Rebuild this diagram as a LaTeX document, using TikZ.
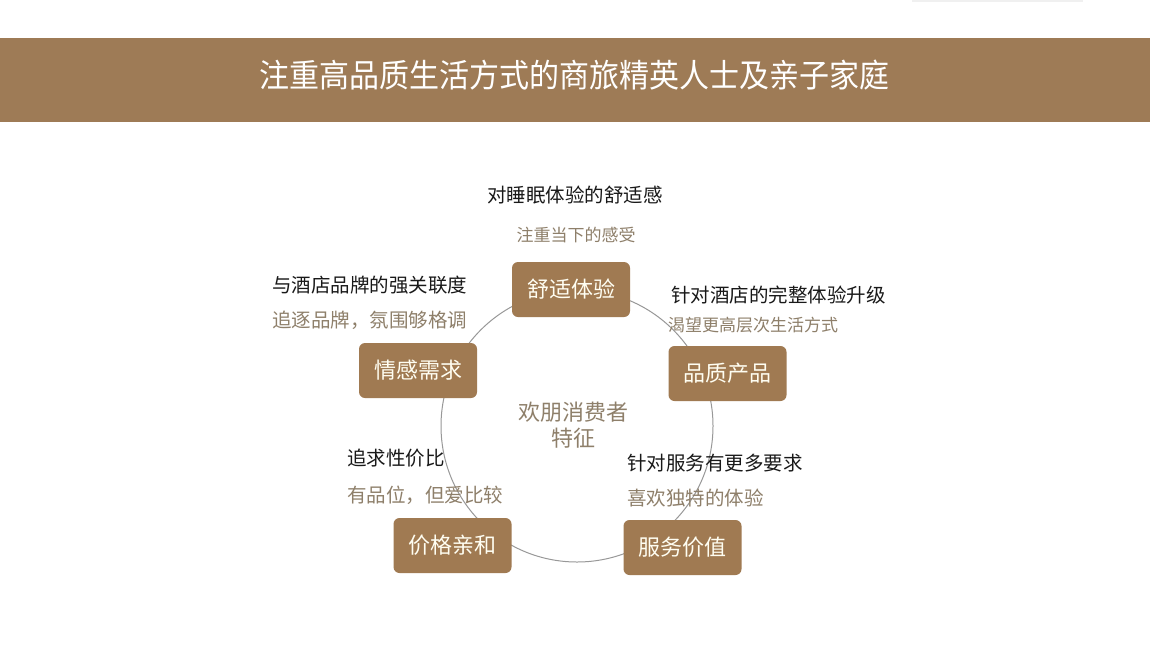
\documentclass[tikz,border=0pt]{standalone}
\usepackage{fontspec}
\setmainfont{Noto Sans CJK SC}
\usepackage{tikz}

\definecolor{bandbrown}{RGB}{158,123,86}
\definecolor{boxbrown}{RGB}{160,122,82}
\definecolor{subgray}{RGB}{142,127,106}
\definecolor{ringgray}{RGB}{152,152,152}

\tikzset{
  keybox/.style={fill=boxbrown, rounded corners=6pt, minimum width=118pt,
                 minimum height=55pt, inner sep=0pt, text=white!95!yellow,
                 font=\fontsize{22}{26}\selectfont},
  headline/.style={inner sep=0pt, text=black!90, font=\fontsize{19.5}{23}\selectfont},
  subline/.style={inner sep=0pt, text=subgray},
}

\begin{document}
\begin{tikzpicture}[x=1pt, y=-1pt]

  \useasboundingbox (0,0) rectangle (1150,662);
  \fill[white] (0,0) rectangle (1150,662);
  \fill[black!6] (912,0) rectangle (1083,2);

  % ---- header band ----
  \fill[bandbrown] (0,38) rectangle (1150,122);
  \node[inner sep=0pt, text=white, font=\fontsize{30}{36}\selectfont,
        yscale=1.08, transform shape] (title) at (574,75)
    {注重高品质生活方式的商旅精英人士及亲子家庭};

  % ---- ring (drawn first, behind the boxes) ----
  \coordinate (ring) at (577,426);
  \draw[ringgray, line width=1pt] (ring) circle[radius=136pt];

  % ---- key boxes: {name / x / y / text} ----
  \foreach \nm/\xx/\yy/\txt in {
      shushi/571/289.5/舒适体验,
      pinzhi/727.5/373.5/品质产品,
      fuwu/682.5/547.5/服务价值,
      jiage/452.5/545.5/价格亲和,
      qinggan/418/370.5/情感需求} {
    \node[keybox] (\nm) at (\xx,\yy) {\txt};
  }

  \node[subline, align=center, font=\fontsize{22}{26}\selectfont] (core) at (573,425)
    {欢朋消费者\\特征};

  % ---- head lines: {anchor / x / y / text} ----
  \foreach \an/\xx/\yy/\txt [count=\i] in {
      center/575/195/对睡眠体验的舒适感,
      west/671/295/针对酒店的完整体验升级,
      west/627/463/针对服务有更多要求,
      west/347/458/追求性价比,
      west/272/285/与酒店品牌的强关联度} {
    \node[headline, anchor=\an] (head\i) at (\xx,\yy) {\txt};
  }

  % ---- sub lines: {anchor / x / y / size / text} ----
  \foreach \an/\xx/\yy/\fs/\txt [count=\i] in {
      center/576/235/17/注重当下的感受,
      west/668/325/17/渴望更高层次生活方式,
      west/627/498/19.5/喜欢独特的体验,
      west/347/495/19.5/有品位，但爱比较,
      west/272/320/19.5/追逐品牌，氛围够格调} {
    \node[subline, anchor=\an, font=\fontsize{\fs}{\fs}\selectfont] (sub\i) at (\xx,\yy) {\txt};
  }

\end{tikzpicture}
\end{document}
